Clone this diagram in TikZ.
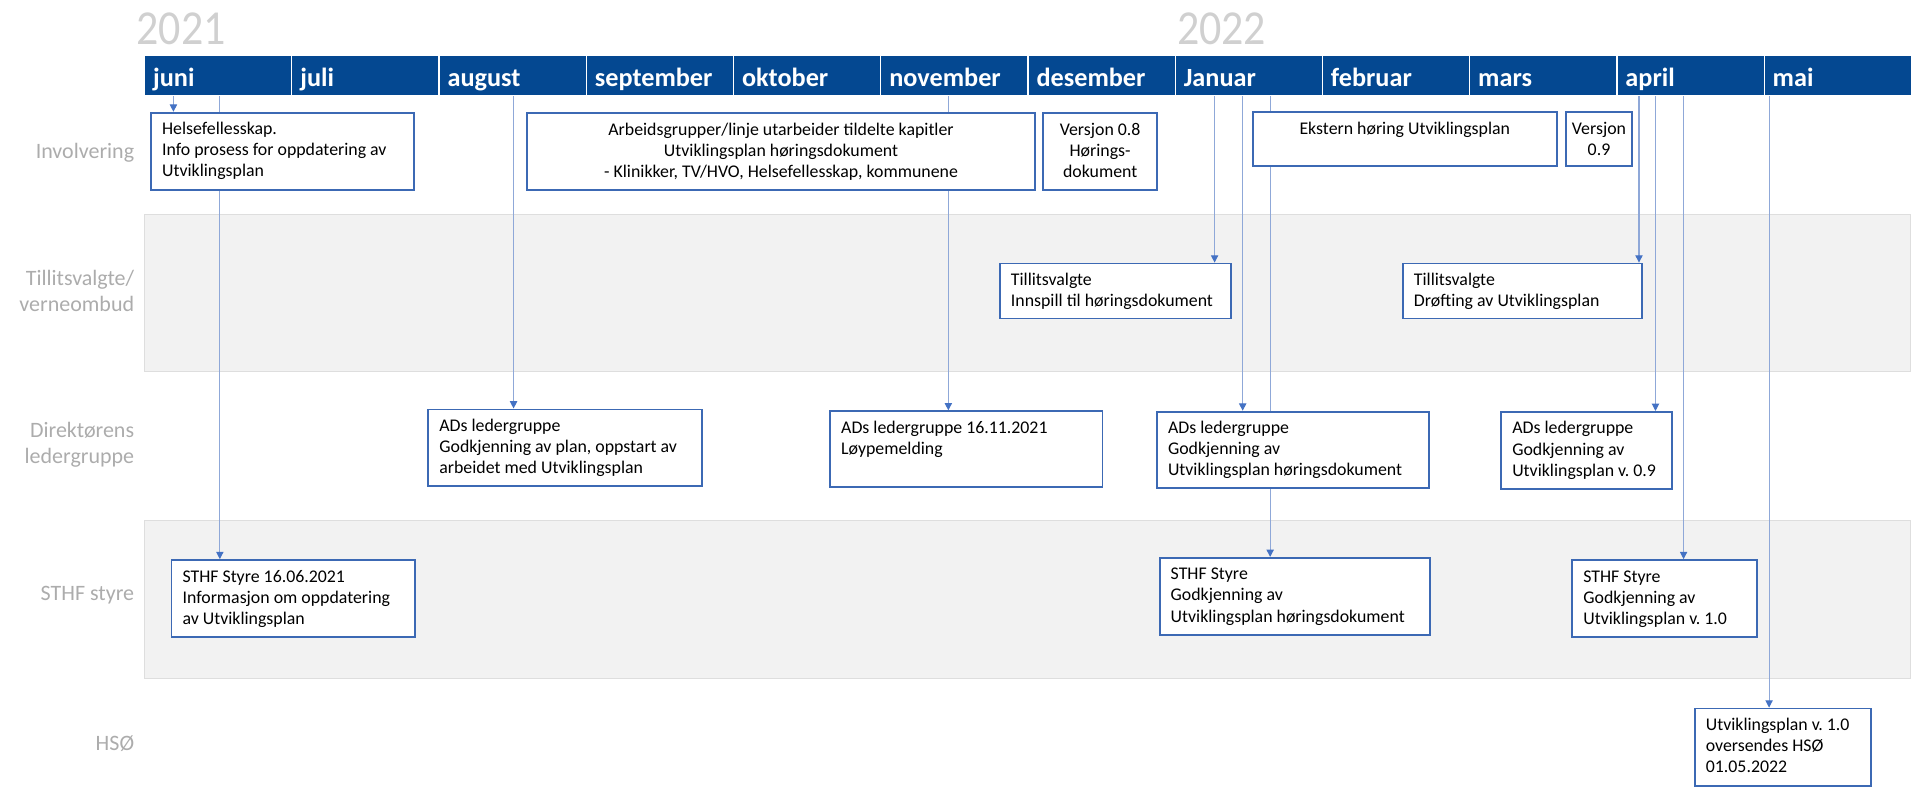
\documentclass[tikz,border=0pt]{standalone}
\usepackage{fontspec}
\setmainfont{Carlito}
\usetikzlibrary{arrows.meta}
\definecolor{barblue}{RGB}{4,72,145}
\definecolor{boxblue}{RGB}{60,105,180}
\definecolor{linkblue}{RGB}{143,168,216}
\definecolor{tipblue}{RGB}{68,114,196}
\definecolor{bandgray}{RGB}{242,242,242}
\definecolor{bandline}{RGB}{222,222,222}
\definecolor{labelgray}{RGB}{172,172,172}
\definecolor{yeargray}{RGB}{208,208,208}
\pgfdeclarelayer{bands}
\pgfdeclarelayer{links}
\pgfsetlayers{bands,links,main}
\frenchspacing
\newcommand\fsz[2]{\fontsize{#1}{#2}\selectfont}
\newcommand\evleft{\raggedright\leftskip=9pt\relax}
\newcommand\evcenter{\centering}
\newcommand\evbox[7]{%
  \pgfmathsetmacro\evw{#4-#2}%
  \pgfmathsetmacro\evh{#5-#3}%
  \node[evbox] (#1) at (#2,#3) {\begin{minipage}[c][\evh pt][t]{\evw pt}\fsz{14.6}{17.3}#6\rule{0pt}{18pt}#7\end{minipage}};}
\tikzset{
  evbox/.style={draw=boxblue, line width=1.5pt, fill=white, inner sep=0pt, anchor=north west},
  month/.style={fill=barblue, draw=white, line width=1pt, anchor=north west, text=white,
    text width=106.55pt, inner xsep=7pt, inner ysep=2pt, minimum height=33.3pt,
    text height=20pt, text depth=1.5pt, align=left, font=\fsz{21.5}{23}\bfseries},
  rowlabel/.style={anchor=east, align=right, text=labelgray, inner sep=0pt, font=\fsz{18}{21}},
  yearlabel/.style={anchor=base west, inner sep=0pt, text=yeargray, font=\fsz{40}{40}},
  link/.style={draw=linkblue, line width=0.9pt, -{Triangle[length=6pt,width=6pt,color=tipblue]}},
  band/.style={fill=bandgray, draw=bandline, line width=0.8pt}
}
\begin{document}
\begin{tikzpicture}[x=1pt,y=-1pt]
\useasboundingbox (0,0) rectangle (1568,664);
% years
\node[yearlabel] (y2021) at (111.5,36.8) {\scalebox{0.9}[1]{2021}};
\node[yearlabel] (y2022) at (963.6,36.8) {\scalebox{0.9}[1]{2022}};
% month bar
\foreach \m [count=\i from 0] in {juni,juli,august,september,oktober,november,desember,Januar,februar,mars,april,mai}
  \node[month] (m\i) at ({117.9+120.55*\i},44.5) {\m};
% bands
\begin{pgfonlayer}{bands}
  \path[band] (117.9,176) rectangle (1564.5,304);
  \path[band] (117.9,426) rectangle (1564.5,555.5);
\end{pgfonlayer}
% row labels
\node[rowlabel] (lInv) at (110,125) {Involvering};
\node[rowlabel] (lTil) at (110,238) {Tillitsvalgte/\\verneombud};
\node[rowlabel] (lDir) at (110,364) {Direktørens\\ledergruppe};
\node[rowlabel] (lSth) at (110,487) {STHF styre};
\node[rowlabel] (lHso) at (110,609) {HSØ};
% boxes
\evbox{helse}{123}{91.5}{338}{155}{\evleft}{Helsefellesskap.\\Info prosess for oppdatering av\\Utviklingsplan}
\evbox{arbeid}{431}{92}{846.5}{155}{\evcenter}{Arbeidsgrupper/linje utarbeider tildelte kapitler\\Utviklingsplan høringsdokument\\- Klinikker, TV/HVO, Helsefellesskap, kommunene}
\evbox{vOtte}{853.5}{92}{946.6}{155}{\evcenter}{Versjon 0.8\\Hørings-\\dokument}
\evbox{ekstern}{1025}{91}{1274}{135}{\evcenter}{Ekstern høring Utviklingsplan}
\evbox{vNi}{1281.5}{91}{1335.5}{135}{\evcenter}{Versjon\\0.9}
\evbox{innspill}{818}{215}{1007}{260}{\evleft}{Tillitsvalgte\\Innspill til høringsdokument}
\evbox{drofting}{1148}{215}{1344}{260}{\evleft}{Tillitsvalgte\\Drøfting av Utviklingsplan}
\evbox{adsaug}{350}{334.5}{573.7}{397.5}{\evleft}{ADs ledergruppe\\Godkjenning av plan, oppstart av\\arbeidet med Utviklingsplan}
\evbox{adsnov}{679}{336}{902}{398}{\evleft}{ADs ledergruppe 16.11.2021\\Løypemelding}
\evbox{adsjan}{946.6}{336.3}{1169}{398.5}{\evleft}{ADs ledergruppe\\Godkjenning av\\Utviklingsplan høringsdokument}
\evbox{adsapr}{1228.5}{336.5}{1368.4}{399.3}{\evleft}{ADs ledergruppe\\Godkjenning av\\Utviklingsplan v.\ 0.9}
\evbox{sthfjun}{139.7}{457.8}{339.3}{520.6}{\evleft}{STHF Styre 16.06.2021\\Informasjon om oppdatering\\av Utviklingsplan}
\evbox{sthfjan}{948.8}{456}{1170}{519.2}{\evleft}{STHF Styre\\Godkjenning av\\Utviklingsplan høringsdokument}
\evbox{sthfapr}{1286.7}{457.8}{1438.2}{520.9}{\evleft}{STHF Styre\\Godkjenning av\\Utviklingsplan v.\ 1.0}
\evbox{hso}{1387}{579.4}{1531.4}{642.5}{\evleft}{Utviklingsplan v.\ 1.0\\oversendes HSØ\\01.05.2022}
% connector start points on the month bar
\coordinate (sHelse) at (142,79);
\coordinate (sSthfjun) at (180,79);
\coordinate (sAdsaug) at (420.5,79);
\coordinate (sAdsnov) at (776.5,79);
\coordinate (sInnspill) at (994.5,79);
\coordinate (sAdsjan) at (1017.5,79);
\coordinate (sSthfjan) at (1040,79);
\coordinate (sDrofting) at (1342,79);
\coordinate (sAdsapr) at (1355.5,79);
\coordinate (sSthfapr) at (1378.5,79);
\coordinate (sHso) at (1448.5,79);
\begin{pgfonlayer}{links}
  \draw[link] (sHelse) -- (sHelse |- helse.north);
  \draw[link] (sSthfjun) -- (sSthfjun |- sthfjun.north);
  \draw[link] (sAdsaug) -- (sAdsaug |- adsaug.north);
  \draw[link] (sAdsnov) -- (sAdsnov |- adsnov.north);
  \draw[link] (sInnspill) -- (sInnspill |- innspill.north);
  \draw[link] (sAdsjan) -- (sAdsjan |- adsjan.north);
  \draw[link] (sSthfjan) -- (sSthfjan |- sthfjan.north);
  \draw[link] (sDrofting) -- (sDrofting |- drofting.north);
  \draw[link] (sAdsapr) -- (sAdsapr |- adsapr.north);
  \draw[link] (sSthfapr) -- (sSthfapr |- sthfapr.north);
  \draw[link] (sHso) -- (sHso |- hso.north);
\end{pgfonlayer}
\end{tikzpicture}
\end{document}
